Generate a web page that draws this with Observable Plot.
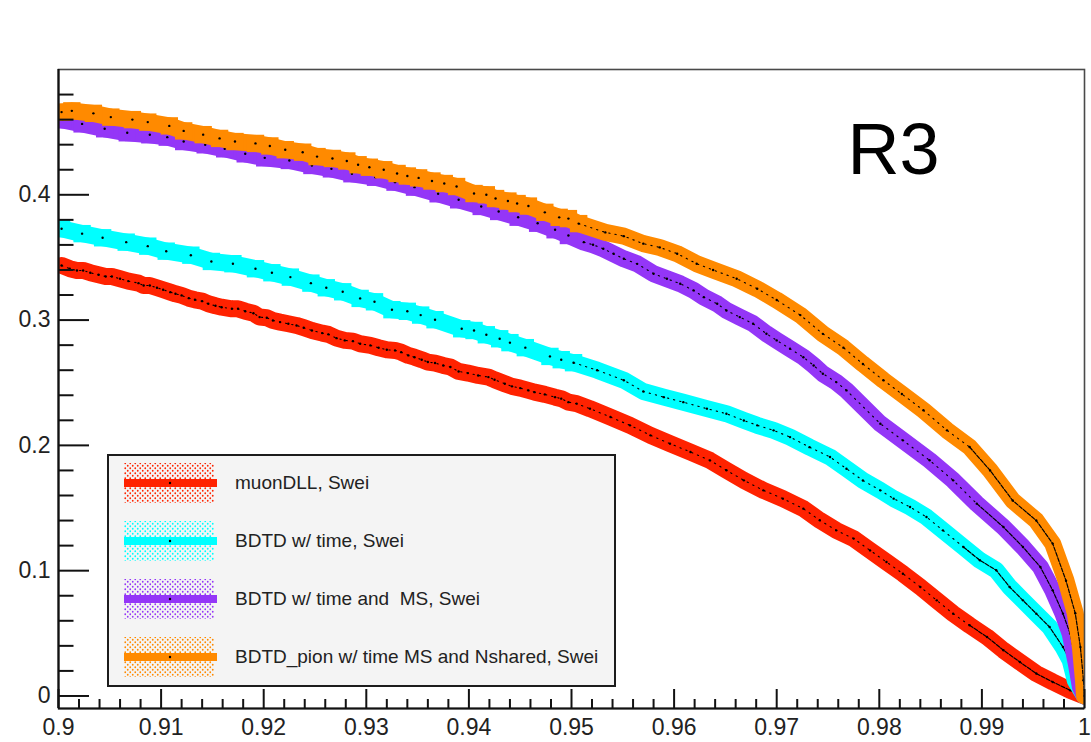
<!DOCTYPE html>
<html>
<head>
<meta charset="utf-8">
<script src="https://cdn.jsdelivr.net/npm/d3@7"></script>
<script src="https://cdn.jsdelivr.net/npm/@observablehq/plot@0.6"></script>
<style>
  html, body { margin: 0; padding: 0; background: #fff; }
  #chart { position: relative; width: 1091px; height: 742px; font-family: "Liberation Sans", Arial, Helvetica, sans-serif; }
  #chart svg { display: block; }
  .legend { position: absolute; left: 107px; top: 454px; width: 509px; height: 233px; box-sizing: border-box;
            border: 2px solid #1c1c1c; background: #f4f4f4; }
  .legend .row { position: absolute; left: 15px; height: 42px; width: 480px; }
  .legend .row svg { position: absolute; left: 0; top: 0; }
  .legend .row span { position: absolute; left: 111px; top: 50%; transform: translateY(-50%);
                      font-size: 19px; color: #222; white-space: pre; }
</style>
</head>
<body>
<div id="chart"></div>
<script>
// Signal efficiency (x) vs background rejection (y) for the four muon-ID selections, region R3.
const seriesLabels = [
  "muonDLL, Swei",
  "BDTD w/ time, Swei",
  "BDTD w/ time and  MS, Swei",
  "BDTD_pion w/ time MS and Nshared, Swei"
];
const seriesColors = ["#ff2200", "#00ffff", "#9436f7", "#ff8a00"];

const muonDLL = [
  [0.9003,0.3436],[0.9011,0.3410],[0.9018,0.3396],[0.9024,0.3396],[0.9031,0.3378],[0.9039,0.3362],
  [0.9046,0.3348],[0.9052,0.3348],[0.9060,0.3330],[0.9068,0.3311],[0.9078,0.3295],[0.9083,0.3276],
  [0.9089,0.3276],[0.9096,0.3258],[0.9102,0.3242],[0.9109,0.3223],[0.9114,0.3210],[0.9120,0.3197],
  [0.9127,0.3175],[0.9133,0.3162],[0.9140,0.3151],[0.9146,0.3130],[0.9153,0.3114],[0.9159,0.3103],
  [0.9169,0.3090],[0.9175,0.3090],[0.9182,0.3071],[0.9190,0.3055],[0.9196,0.3024],[0.9203,0.3019],
  [0.9209,0.2997],[0.9216,0.2984],[0.9224,0.2971],[0.9232,0.2957],[0.9239,0.2939],[0.9247,0.2917],
  [0.9257,0.2896],[0.9263,0.2886],[0.9271,0.2856],[0.9279,0.2838],[0.9287,0.2832],[0.9294,0.2811],
  [0.9304,0.2798],[0.9312,0.2779],[0.9320,0.2763],[0.9328,0.2758],[0.9334,0.2744],[0.9341,0.2718],
  [0.9347,0.2704],[0.9354,0.2684],[0.9360,0.2665],[0.9367,0.2657],[0.9375,0.2638],[0.9382,0.2625],
  [0.9390,0.2590],[0.9399,0.2577],[0.9409,0.2558],[0.9419,0.2545],[0.9425,0.2524],[0.9435,0.2492],
  [0.9442,0.2471],[0.9450,0.2457],[0.9458,0.2439],[0.9464,0.2425],[0.9474,0.2407],[0.9484,0.2385],
  [0.9490,0.2373],[0.9497,0.2345],[0.9505,0.2333],[0.9518,0.2293],[0.9538,0.2226],[0.9557,0.2160],
  [0.9577,0.2080],[0.9596,0.2014],[0.9616,0.1947],[0.9635,0.1880],[0.9651,0.1801],[0.9668,0.1721],
  [0.9687,0.1641],[0.9706,0.1575],[0.9726,0.1495],[0.9742,0.1402],[0.9758,0.1322],[0.9775,0.1256],
  [0.9791,0.1162],[0.9807,0.1069],[0.9823,0.0976],[0.9840,0.0870],[0.9856,0.0763],[0.9872,0.0657],
  [0.9888,0.0564],[0.9905,0.0471],[0.9921,0.0365],[0.9937,0.0271],[0.9953,0.0179],[0.9969,0.0112],
  [0.9986,0.0045],[1.0000,0.0000]
];

const bdtdTime = [
  [0.9003,0.3729],[0.9023,0.3690],[0.9043,0.3657],[0.9066,0.3622],[0.9087,0.3590],[0.9105,0.3550],
  [0.9129,0.3518],[0.9149,0.3468],[0.9170,0.3450],[0.9192,0.3410],[0.9208,0.3378],[0.9226,0.3343],
  [0.9246,0.3295],[0.9261,0.3258],[0.9277,0.3226],[0.9294,0.3173],[0.9308,0.3146],[0.9325,0.3083],
  [0.9340,0.3070],[0.9353,0.3040],[0.9367,0.3003],[0.9393,0.2931],[0.9405,0.2917],[0.9417,0.2883],
  [0.9430,0.2851],[0.9440,0.2820],[0.9455,0.2780],[0.9479,0.2710],[0.9490,0.2684],[0.9502,0.2660],
  [0.9525,0.2600],[0.9551,0.2520],[0.9570,0.2430],[0.9590,0.2385],[0.9609,0.2345],[0.9632,0.2293],
  [0.9651,0.2253],[0.9668,0.2199],[0.9681,0.2160],[0.9697,0.2120],[0.9713,0.2066],[0.9732,0.1986],
  [0.9752,0.1907],[0.9768,0.1814],[0.9784,0.1720],[0.9801,0.1641],[0.9814,0.1575],[0.9830,0.1508],
  [0.9846,0.1428],[0.9862,0.1322],[0.9882,0.1189],[0.9898,0.1083],[0.9914,0.1003],[0.9927,0.0870],
  [0.9940,0.0763],[0.9953,0.0657],[0.9966,0.0550],[0.9979,0.0391],[0.9986,0.0285],[0.9991,0.0125],
  [1.0000,0.0000]
];

const bdtdTimeMS = [
  [0.9004,0.4598],[0.9023,0.4566],[0.9045,0.4527],[0.9067,0.4495],[0.9089,0.4479],[0.9106,0.4460],
  [0.9122,0.4425],[0.9143,0.4399],[0.9162,0.4367],[0.9182,0.4327],[0.9201,0.4295],[0.9225,0.4274],
  [0.9247,0.4234],[0.9266,0.4207],[0.9286,0.4168],[0.9309,0.4140],[0.9328,0.4101],[0.9347,0.4061],
  [0.9370,0.4008],[0.9390,0.3960],[0.9412,0.3907],[0.9429,0.3867],[0.9448,0.3821],[0.9467,0.3773],
  [0.9484,0.3721],[0.9497,0.3675],[0.9512,0.3622],[0.9521,0.3601],[0.9531,0.3569],[0.9541,0.3529],
  [0.9551,0.3489],[0.9564,0.3449],[0.9580,0.3370],[0.9593,0.3330],[0.9606,0.3290],[0.9619,0.3237],
  [0.9629,0.3183],[0.9642,0.3130],[0.9651,0.3077],[0.9664,0.3024],[0.9677,0.2971],[0.9690,0.2891],
  [0.9700,0.2838],[0.9713,0.2771],[0.9726,0.2704],[0.9736,0.2638],[0.9745,0.2572],[0.9758,0.2505],
  [0.9768,0.2439],[0.9801,0.2173],[0.9823,0.2040],[0.9849,0.1881],[0.9872,0.1721],[0.9895,0.1535],
  [0.9921,0.1348],[0.9940,0.1189],[0.9957,0.1029],[0.9969,0.0843],[0.9979,0.0657],[0.9986,0.0498],
  [0.9992,0.0258],[0.9996,0.0072],[1.0000,0.0000]
];

const bdtdPion = [
  [0.9003,0.4660],[0.9013,0.4670],[0.9034,0.4650],[0.9051,0.4620],[0.9072,0.4600],[0.9087,0.4580],
  [0.9108,0.4550],[0.9122,0.4510],[0.9141,0.4480],[0.9157,0.4450],[0.9172,0.4425],[0.9192,0.4410],
  [0.9206,0.4390],[0.9221,0.4360],[0.9238,0.4340],[0.9252,0.4305],[0.9267,0.4290],[0.9281,0.4270],
  [0.9292,0.4240],[0.9303,0.4220],[0.9317,0.4200],[0.9330,0.4170],[0.9340,0.4150],[0.9351,0.4135],
  [0.9364,0.4110],[0.9376,0.4090],[0.9388,0.4066],[0.9405,0.4010],[0.9417,0.4000],[0.9426,0.3970],
  [0.9438,0.3950],[0.9447,0.3930],[0.9458,0.3910],[0.9474,0.3860],[0.9488,0.3820],[0.9497,0.3810],
  [0.9507,0.3770],[0.9533,0.3700],[0.9551,0.3670],[0.9570,0.3610],[0.9586,0.3580],[0.9603,0.3530],
  [0.9622,0.3450],[0.9638,0.3400],[0.9661,0.3330],[0.9681,0.3250],[0.9700,0.3160],[0.9723,0.3040],
  [0.9745,0.2890],[0.9765,0.2780],[0.9784,0.2650],[0.9804,0.2520],[0.9822,0.2410],[0.9843,0.2280],
  [0.9866,0.2120],[0.9888,0.1987],[0.9908,0.1800],[0.9930,0.1560],[0.9953,0.1400],[0.9969,0.1216],
  [0.9982,0.0920],[0.9991,0.0660],[0.9996,0.0390],[0.9999,0.0125],[1.0000,0.0000]
];

// Axis ticks
const xMajorTicks = [0.9, 0.91, 0.92, 0.93, 0.94, 0.95, 0.96, 0.97, 0.98, 0.99, 1.0];
const xTickLabels = ["0.9", "0.91", "0.92", "0.93", "0.94", "0.95", "0.96", "0.97", "0.98", "0.99", "1"];
const yMajorTicks = [0, 0.1, 0.2, 0.3, 0.4];
const yTickLabels = ["0", "0.1", "0.2", "0.3", "0.4"];

const xMinorTicks = d3.range(0, 51).map(i => 0.9 + i * 0.002).filter((_, i) => i % 5 !== 0);
const yMinorTicks = d3.range(0, 25).map(i => i * 0.02).filter((_, i) => i % 5 !== 0);

const curves = [muonDLL, bdtdTime, bdtdTimeMS, bdtdPion];
const rows = curves.flatMap((pts, s) => pts.map(([x, y]) => ({series: s, x, y})));

// Band width of each curve; the sparse, flat part of the BDT curves shows blocky steps
const bandWidth = [17, 17, 17, 17];
const blockyUntil = [0, 0.951, 0.951, 0.951];
// Where the points crowd together the markers merge into a dotted / near-solid trace
const denseFrom = [0.9, 0.95, 0.95, 0.95];

const curveMarks = [];
curves.forEach((pts, s) => {
  const data = rows.filter(d => d.series === s);
  const color = seriesColors[s];
  curveMarks.push(
    Plot.line(data, {x: "x", y: "y", stroke: color, strokeWidth: bandWidth[s], strokeLinejoin: "round", clip: true}),
    Plot.dot(data.filter(d => d.x < blockyUntil[s]), {x: "x", y: "y", symbol: "square", r: 9.8, fill: color, stroke: null, clip: true}),
    Plot.line(data.filter(d => d.x >= denseFrom[s] && d.x < 0.99), {x: "x", y: "y", stroke: "#000", strokeWidth: 1.1, strokeDasharray: "1.3 5", clip: true}),
    Plot.line(data.filter(d => d.x >= 0.988), {x: "x", y: "y", stroke: "#000", strokeWidth: 1.2, strokeDasharray: "4 1.5", clip: true}),
    Plot.dot(data, {x: "x", y: "y", r: 1.2, fill: "#000", stroke: null, clip: true})
  );
});

const chart = Plot.plot({
  width: 1091,
  height: 742,
  marginLeft: 58,
  marginRight: 7,
  marginTop: 69,
  marginBottom: 34,
  x: {domain: [0.9, 1.0], label: null},
  y: {domain: [-0.01, 0.5], label: null},
  style: {fontFamily: "'Liberation Sans', Arial, Helvetica, sans-serif", fontSize: "23px", color: "#111", background: "#fff", overflow: "visible"},
  marks: [
    ...curveMarks,
    Plot.frame({stroke: "#4a4a4a", strokeWidth: 1.6}),
    Plot.ruleX([0.9], {stroke: "#111", strokeWidth: 2.2}),
    Plot.ruleY([-0.01], {stroke: "#111", strokeWidth: 2.2}),
    // inward ROOT-style ticks
    Plot.axisY(yMajorTicks, {anchor: "left", tickSize: -31, tickFormat: () => "", stroke: "#111", strokeWidth: 2, label: null}),
    Plot.axisY(yMinorTicks, {anchor: "left", tickSize: -15.5, tickFormat: () => "", stroke: "#111", strokeWidth: 2, label: null}),
    Plot.axisY(yMajorTicks, {anchor: "left", tickSize: 0, tickPadding: 8, tickFormat: (d, i) => yTickLabels[i], fill: "#222", label: null}),
    Plot.axisX(xMajorTicks, {anchor: "bottom", tickSize: -19, tickFormat: () => "", stroke: "#111", strokeWidth: 2, label: null}),
    Plot.axisX(xMinorTicks, {anchor: "bottom", tickSize: -9, tickFormat: () => "", stroke: "#111", strokeWidth: 2, label: null}),
    Plot.axisX(xMajorTicks, {anchor: "bottom", tickSize: 0, tickPadding: 10, tickFormat: (d, i) => xTickLabels[i], fill: "#222", label: null}),
    Plot.text(["R3"], {frameAnchor: "top-left", dx: 789, dy: 53, textAnchor: "start", lineAnchor: "top", fontSize: 72, fill: "#000"})
  ]
});

const root = document.getElementById("chart");
root.appendChild(chart);

// Legend box drawn over the lower-left of the frame
const legend = document.createElement("div");
legend.className = "legend";
const rowCenters = [26.7, 84.7, 143, 201.3];
seriesLabels.forEach((label, i) => {
  const c = seriesColors[i];
  const row = document.createElement("div");
  row.className = "row";
  row.style.top = (rowCenters[i] - 21) + "px";
  row.innerHTML =
    `<svg width="95" height="42" xmlns="http://www.w3.org/2000/svg">
       <defs>
         <pattern id="dots${i}" width="5" height="5" patternUnits="userSpaceOnUse">
           <circle cx="1.25" cy="1.25" r="0.9" fill="${c}"/>
           <circle cx="3.75" cy="3.75" r="0.9" fill="${c}"/>
         </pattern>
       </defs>
       <rect x="0" y="1" width="90" height="40" fill="url(#dots${i})"/>
       <rect x="0" y="17" width="93" height="8" fill="${c}"/>
       <circle cx="46" cy="21" r="1.2" fill="#000"/>
     </svg><span>${label}</span>`;
  legend.appendChild(row);
});
root.appendChild(legend);
</script>
</body>
</html>
